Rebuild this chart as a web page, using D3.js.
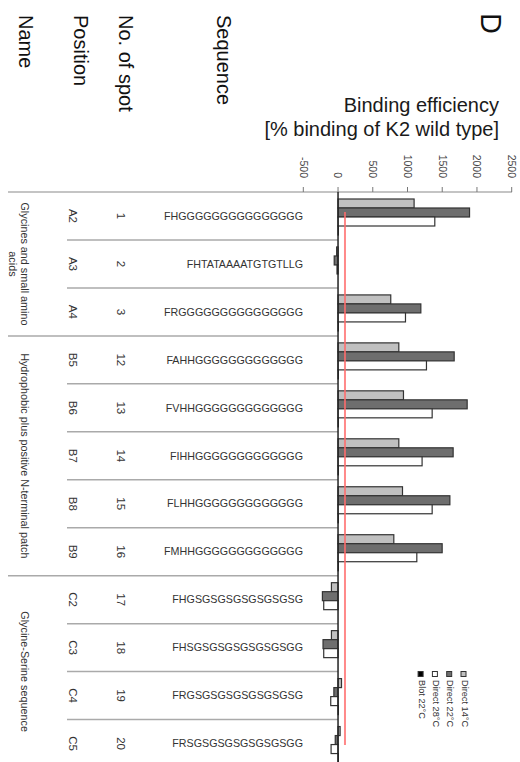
<!DOCTYPE html>
<html>
<head>
<meta charset="utf-8">
<script src="https://cdn.jsdelivr.net/npm/d3@7"></script>
<style>
  html, body { margin: 0; padding: 0; background: #fff; }
  svg { display: block; font-family: "Liberation Sans", Arial, sans-serif; }
</style>
</head>
<body>
<div id="chart"></div>
<script>
// Binding efficiency of K2 variants, figure drawn rotated 90deg clockwise
const positions = ["A2", "A3", "A4", "B5", "B6", "B7", "B8", "B9", "C2", "C3", "C4", "C5"];
const spots = ["1", "2", "3", "12", "13", "14", "15", "16", "17", "18", "19", "20"];
const sequences = [
  "FHGGGGGGGGGGGGGGG", "FHTATAAAATGTGTLLG", "FRGGGGGGGGGGGGGGG",
  "FAHHGGGGGGGGGGGGG", "FVHHGGGGGGGGGGGGG", "FIHHGGGGGGGGGGGGG",
  "FLHHGGGGGGGGGGGGG", "FMHHGGGGGGGGGGGGG",
  "FHGSGSGSGSGSGSGSG", "FHSGSGSGSGSGSGSGG", "FRGSGSGSGSGSGSGSG", "FRSGSGSGSGSGSGSGG"
];
const groupNames = [
  ["Glycines and small amino", "acids"],
  ["Hydrophobic plus positive N-terminal patch"],
  ["Glycine-Serine sequence"]
];
const groupSizes = [3, 5, 4];

const seriesNames = ["Direct 14°C", "Direct 22°C", "Direct 28°C", "Blot 22°C"];
const direct14 = [1095, -20, 759, 875, 942, 875, 928, 803, -95, -95, 50, 30];
const direct22 = [1893, -55, 1192, 1672, 1859, 1657, 1610, 1499, -225, -216, -60, -40];
const direct28 = [1393, -15, 971, 1273, 1355, 1210, 1355, 1134, -206, -206, -105, -100];
const blot22 = [5, 0, 5, 5, 5, 5, 5, 5, 0, 0, 5, 5];
const xTicks = [-500, 0, 500, 1000, 1500, 2000, 2500];
const referenceValue = 100;

const headers = ["Name", "Position", "No. of spot", "Sequence"];
const axisTitle = ["Binding efficiency", "[% binding of K2 wild type]"];

const W = 520, H = 762;
const fills = ["#c0c0c0", "#6e6e6e", "#ffffff", "#000000"];
const allSeries = [direct14, direct22, direct28, blot22];

const svg = d3.select("#chart").append("svg")
  .attr("width", W).attr("height", H);

svg.append("rect").attr("width", W).attr("height", H).attr("fill", "#fff");

const x = d3.scaleLinear().domain([-500, 2500]).range([303.3, 511.7]);
const y = d3.scaleBand().domain(positions).range([192, 192 + 12 * 47.96]);
const inner = d3.scaleBand().domain(seriesNames).range([7, 43]);

// panel letter
svg.append("text")
  .attr("transform", "translate(481,13) rotate(90)")
  .attr("font-size", 29).attr("fill", "#111")
  .text("D");

// column headers (rotated)
const headerX = [19, 74, 119, 216.5];
headers.forEach((h, i) => {
  svg.append("text")
    .attr("transform", `translate(${headerX[i]},15) rotate(90)`)
    .attr("font-size", 20).attr("fill", "#111")
    .text(h);
});

// axis title (horizontal)
axisTitle.forEach((t, i) => {
  svg.append("text")
    .attr("x", 499).attr("y", 112 + i * 24)
    .attr("text-anchor", "end")
    .attr("font-size", 20).attr("fill", "#1a1a1a")
    .text(t);
});

// value axis along the top
svg.append("line")
  .attr("x1", 8).attr("x2", 512)
  .attr("y1", 192).attr("y2", 192)
  .attr("stroke", "#b0b0b0").attr("stroke-width", 1.5);

svg.selectAll(".tick")
  .data(xTicks)
  .join("line")
  .attr("class", "tick")
  .attr("x1", d => x(d)).attr("x2", d => x(d))
  .attr("y1", 187).attr("y2", 192)
  .attr("stroke", "#777").attr("stroke-width", 1);

svg.selectAll(".ticklabel")
  .data(xTicks)
  .join("text")
  .attr("class", "ticklabel")
  .attr("transform", d => `translate(${x(d)},178) rotate(90)`)
  .attr("text-anchor", "end")
  .attr("dy", "0.35em")
  .attr("font-size", 10.5).attr("fill", "#444")
  .text(d => d);

// row separators
const groupStarts = [];
let acc = 0;
groupSizes.forEach(s => { groupStarts.push(acc); acc += s; });

positions.forEach((p, i) => {
  if (i === 0) return;
  const isGroup = groupStarts.includes(i);
  svg.append("line")
    .attr("x1", isGroup ? 8 : 67).attr("x2", x(0))
    .attr("y1", y(p)).attr("y2", y(p))
    .attr("stroke", "#aaa").attr("stroke-width", 1.5);
});

// group labels
groupNames.forEach((lines, g) => {
  const first = positions[groupStarts[g]];
  const last = positions[groupStarts[g] + groupSizes[g] - 1];
  const cy = (y(first) + y(last) + y.bandwidth()) / 2;
  lines.forEach((line, li) => {
    svg.append("text")
      .attr("transform", `translate(${21 - li * 12.5},${cy}) rotate(90)`)
      .attr("text-anchor", "middle")
      .attr("font-size", 10.8).attr("fill", "#333")
      .text(line);
  });
});

// row labels
const rowC = p => y(p) + y.bandwidth() / 2;
svg.selectAll(".pos")
  .data(positions)
  .join("text")
  .attr("transform", d => `translate(73,${rowC(d)}) rotate(90)`)
  .attr("text-anchor", "middle").attr("dy", "0.35em")
  .attr("font-size", 11.5).attr("fill", "#333")
  .text(d => d);

svg.selectAll(".spot")
  .data(positions)
  .join("text")
  .attr("transform", (d) => `translate(121.5,${rowC(d)}) rotate(90)`)
  .attr("text-anchor", "middle").attr("dy", "0.35em")
  .attr("font-size", 11.5).attr("fill", "#333")
  .text((d, i) => spots[i]);

svg.selectAll(".seq")
  .data(positions)
  .join("text")
  .attr("x", 303)
  .attr("y", d => rowC(d))
  .attr("text-anchor", "end").attr("dy", "0.35em")
  .attr("font-size", 10.7).attr("fill", "#333")
  .text((d, i) => sequences[i]);

// bars
seriesNames.forEach((s, si) => {
  svg.append("g").selectAll("rect")
    .data(allSeries[si])
    .join("rect")
    .attr("x", d => x(Math.min(0, d)))
    .attr("width", d => Math.abs(x(d) - x(0)))
    .attr("y", (d, i) => y(positions[i]) + inner(s))
    .attr("height", inner.bandwidth())
    .attr("fill", fills[si])
    .attr("stroke", "#333").attr("stroke-width", 1.2);
});

// zero baseline
svg.append("line")
  .attr("x1", x(0)).attr("x2", x(0))
  .attr("y1", 192).attr("y2", H)
  .attr("stroke", "#222").attr("stroke-width", 1.5);

// 100% reference line
svg.append("line")
  .attr("x1", x(referenceValue)).attr("x2", x(referenceValue))
  .attr("y1", 212).attr("y2", 745)
  .attr("stroke", "#ff6b6b").attr("stroke-opacity", 0.8).attr("stroke-width", 2);

// legend
const legend = svg.append("g");
seriesNames.forEach((s, i) => {
  const lx = 461 - i * 14.3;
  legend.append("rect")
    .attr("x", lx).attr("y", 671.5)
    .attr("width", 5).attr("height", 5)
    .attr("fill", fills[i]).attr("stroke", "#333").attr("stroke-width", 1);
  legend.append("text")
    .attr("transform", `translate(${lx + 0.5},680) rotate(90)`)
    .attr("font-size", 9.2).attr("fill", "#333")
    .text(s);
});
</script>
</body>
</html>
